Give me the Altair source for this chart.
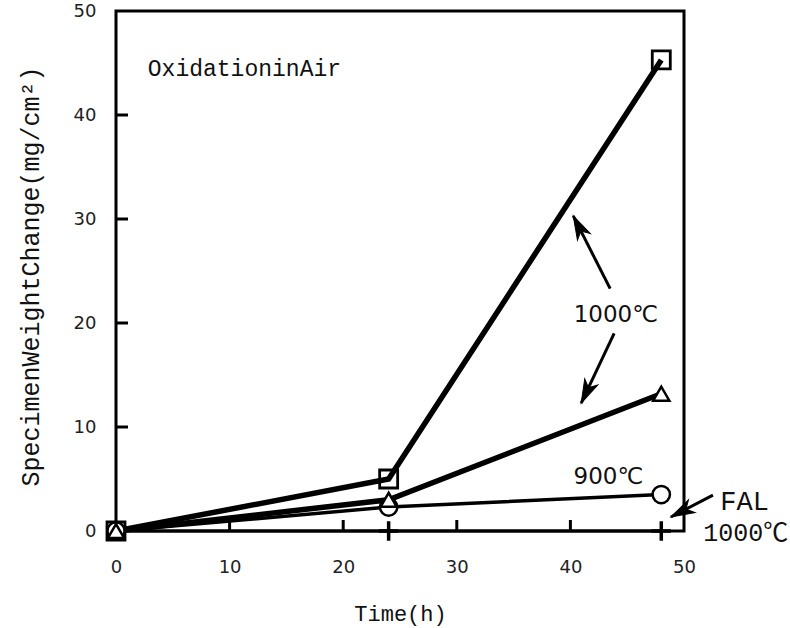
import math
import altair as alt
import pandas as pd

# ---- data ----
time_h = [0, 24, 48]
sq_1000 = [0.0, 5.0, 45.3]      # squares, 1000 C
tri_1000 = [0.0, 3.0, 13.2]     # triangles, 1000 C
circ_900 = [0.0, 2.3, 3.5]      # circles, 900 C
fal_1000 = [0.0, 0.0, 0.0]      # plus, FAL 1000 C

x_tick_values = [0, 10, 20, 30, 40, 50]
y_tick_values = [0, 10, 20, 30, 40, 50]
inner_ticks = [10, 20, 30, 40]

MONO = "'Courier New', 'Liberation Mono', 'Noto Sans CJK JP', monospace"
SANS = "'DejaVu Sans', 'Noto Sans CJK JP'"

# annotations (data coordinates)
ann_text = ["OxidationinAir", "1000℃", "900℃", "FAL", "1000℃"]
ann_x = [2.8, 44.0, 43.35, 53.2, 51.7]
ann_y = [44.4, 20.8, 5.2, 2.8, -0.2]
ann_font = [MONO, SANS, SANS, MONO, MONO]
ann_size = [23, 23, 23, 27, 25]
ann_align = ["left", "center", "center", "left", "left"]

arrow_tail_x = [43.5, 43.85, 52.55]
arrow_tail_y = [23.3, 19.0, 3.45]
arrow_head_x = [40.25, 40.95, 48.85]
arrow_head_y = [30.3, 12.3, 1.35]

W, H = 568, 520

xs = alt.Scale(domain=[0, 50], nice=False, zero=False)
ys = alt.Scale(domain=[0, 50], nice=False, zero=False)

x_axis = alt.Axis(values=x_tick_values, labelFlush=False, labelPadding=27,
                  titleX=W / 2, titleY=82, titleBaseline="middle",
                  titleFont=MONO, titleFontSize=22, titleFontWeight="normal",
                  titleColor="#111")
y_axis = alt.Axis(values=y_tick_values, labelPadding=20,
                  titleX=-86, titleY=H / 2 + 5, titleBaseline="middle",
                  titleFont=MONO, titleFontSize=25, titleFontWeight="normal",
                  titleColor="#111")

XT = "Time(h)"
YT = "SpecimenWeightChange(mg/cm²)"


def X(field, **kw):
    return alt.X(field, type="quantitative", scale=xs, axis=x_axis, title=XT, **kw)


def Y(field, **kw):
    return alt.Y(field, type="quantitative", scale=ys, axis=y_axis, title=YT, **kw)


rows = []
for name, vals in [("sq", sq_1000), ("tri", tri_1000), ("circ", circ_900), ("fal", fal_1000)]:
    for t, v in zip(time_h, vals):
        rows.append({"series": name, "t": t, "v": v})
df = pd.DataFrame(rows)

line_width = {"sq": 5.5, "tri": 5.5, "circ": 3.5, "fal": 3}

layers = []
for s in ["fal", "circ", "tri", "sq"]:
    layers.append(
        alt.Chart(df).transform_filter(alt.datum.series == s)
        .mark_line(color="black", strokeWidth=line_width[s], clip=False)
        .encode(x=X("t"), y=Y("v"))
    )

# markers
plus_path = "M-1,0H1M0,-1V1"
layers.append(
    alt.Chart(df).transform_filter((alt.datum.series == "fal") & (alt.datum.t > 0))
    .mark_point(shape=plus_path, size=380, filled=False, stroke="black", strokeWidth=3.5,
                opacity=1, clip=False)
    .encode(x=X("t"), y=Y("v"))
)
layers.append(
    alt.Chart(df).transform_filter(alt.datum.series == "circ")
    .mark_point(shape="circle", size=300, filled=True, fill="white", stroke="black",
                strokeWidth=2.5, opacity=1, clip=False)
    .encode(x=X("t"), y=Y("v"))
)
layers.append(
    alt.Chart(df).transform_filter(alt.datum.series == "tri")
    .mark_point(shape="triangle-up", size=260, filled=True, fill="white", stroke="black",
                strokeWidth=2.5, opacity=1, clip=False)
    .encode(x=X("t"), y=Y("v"))
)
layers.append(
    alt.Chart(df).transform_filter(alt.datum.series == "sq")
    .mark_point(shape="square", size=324, filled=False, stroke="black",
                strokeWidth=2.8, opacity=1, clip=False)
    .encode(x=X("t"), y=Y("v"))
)

# inward ticks
tick_df = pd.DataFrame({"v": inner_ticks})
layers.append(
    alt.Chart(tick_df).mark_rule(color="black", strokeWidth=3)
    .encode(x=X("v"), y=alt.value(H), y2=alt.value(H - 11))
)
layers.append(
    alt.Chart(tick_df).mark_rule(color="black", strokeWidth=3)
    .encode(y=Y("v"), x=alt.value(0), x2=alt.value(12))
)

# arrows
ang = []
for tx, ty, hx, hy in zip(arrow_tail_x, arrow_tail_y, arrow_head_x, arrow_head_y):
    dx = (hx - tx) * W / 50.0
    dy = -(hy - ty) * H / 50.0
    ang.append(math.degrees(math.atan2(dx, -dy)) % 360)
arrow_df = pd.DataFrame({"tx": arrow_tail_x, "ty": arrow_tail_y,
                         "hx": arrow_head_x, "hy": arrow_head_y, "ang": ang})
layers.append(
    alt.Chart(arrow_df).mark_rule(color="black", strokeWidth=3, clip=False)
    .encode(x=X("tx"), y=Y("ty"), x2=alt.X2("hx"), y2=alt.Y2("hy"))
)
head_path = "M0,0L0.55,1.8L0,1.3L-0.55,1.8Z"
layers.append(
    alt.Chart(arrow_df).mark_point(shape=head_path, size=680, filled=True, fill="black",
                                   stroke="black", strokeWidth=1, opacity=1, clip=False)
    .encode(x=X("hx"), y=Y("hy"), angle=alt.Angle("ang:Q", scale=None))
)

# texts
for txt, x, y, f, sz, al in zip(ann_text, ann_x, ann_y, ann_font, ann_size, ann_align):
    tdf = pd.DataFrame({"x": [x], "y": [y], "label": [txt]})
    layers.append(
        alt.Chart(tdf).mark_text(font=f, fontSize=sz, align=al, baseline="middle",
                                 color="#111", clip=False)
        .encode(x=X("x"), y=Y("y"), text="label:N")
    )

chart = (
    alt.layer(*layers)
    .properties(width=W, height=H, autosize=alt.AutoSizeParams(type="none"),
                padding={"left": 116, "top": 11, "right": 790 - 116 - W, "bottom": 628 - 11 - H},
                background="white")
    .configure_view(stroke="black", strokeWidth=3)
    .configure_axis(domain=False, ticks=False, grid=False, labelFont=SANS,
                    labelFontSize=18, labelColor="#222")
)

chart.save("out.html", embed_options={"renderer": "svg", "actions": False})
